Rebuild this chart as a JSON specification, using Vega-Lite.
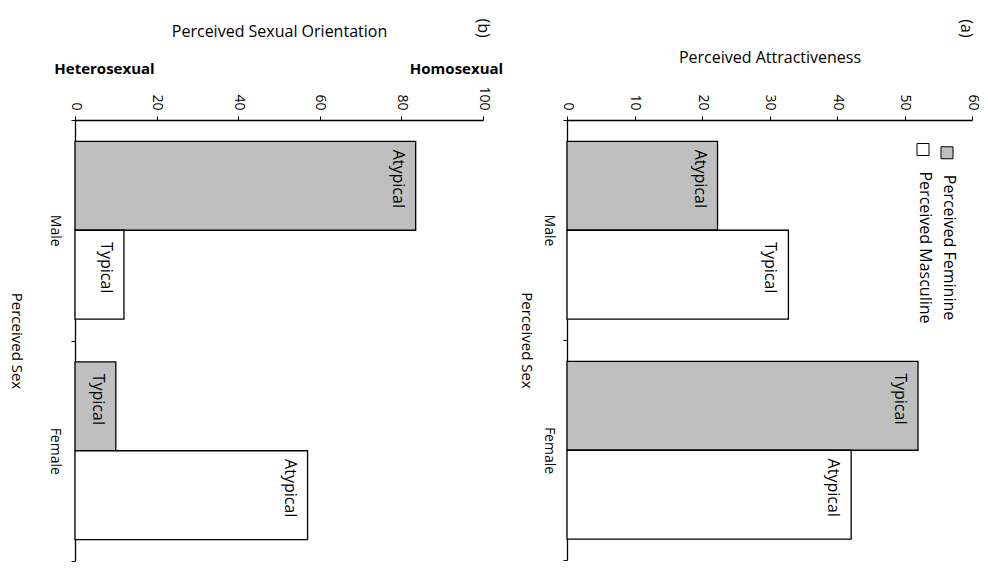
{
  "$schema": "https://vega.github.io/schema/vega-lite/v6.json",
  "background": "white",
  "padding": {"left": 8, "top": 18, "right": 2, "bottom": 2},
  "spacing": 15,
  "datasets": {
    "orientation": [
      {"sex": "Male", "gender": "Perceived Feminine", "label": "Atypical", "value": 83.5},
      {"sex": "Male", "gender": "Perceived Masculine", "label": "Typical", "value": 12},
      {"sex": "Female", "gender": "Perceived Feminine", "label": "Typical", "value": 10},
      {"sex": "Female", "gender": "Perceived Masculine", "label": "Atypical", "value": 57}
    ],
    "attractiveness": [
      {"sex": "Male", "gender": "Perceived Feminine", "label": "Atypical", "value": 22.3},
      {"sex": "Male", "gender": "Perceived Masculine", "label": "Typical", "value": 32.8},
      {"sex": "Female", "gender": "Perceived Feminine", "label": "Typical", "value": 52},
      {"sex": "Female", "gender": "Perceived Masculine", "label": "Atypical", "value": 42.1}
    ]
  },
  "hconcat": [
    {
      "width": 408,
      "height": 441,
      "title": {"text": "(b)", "angle": 90, "anchor": "end", "fontSize": 16, "font": "Open Sans", "fontWeight": "normal", "offset": -24, "dx": 10, "dy": 12},
      "data": {"name": "orientation"},
      "encoding": {
        "y": {"field": "sex", "type": "nominal", "sort": ["Male", "Female"],
          "scale": {"paddingInner": 0, "paddingOuter": 0},
          "axis": {"title": "Perceived Sex", "titleAngle": 90, "titleBaseline": "top", "titleAlign": "center", "titlePadding": 24, "titleFontSize": 15,
            "labelAngle": 90, "labelAlign": "center", "labelBaseline": "top", "labelPadding": 10, "tickBand": "extent", "tickSize": 4}},
        "yOffset": {"field": "gender", "type": "nominal", "sort": ["Perceived Feminine", "Perceived Masculine"],
          "scale": {"paddingInner": 0, "paddingOuter": 0.24}}
      },
      "layer": [
        {
          "mark": {"type": "bar", "stroke": "black", "strokeWidth": 1.3},
          "encoding": {
            "x": {"field": "value", "type": "quantitative", "scale": {"domain": [0, 100], "nice": false},
              "axis": {"orient": "top", "values": [0, 20, 40, 60, 80, 100], "title": null, "labelAngle": 90, "labelAlign": "right", "labelBaseline": "middle", "labelPadding": 6, "tickSize": 4}},
            "color": {"field": "gender", "type": "nominal",
              "scale": {"domain": ["Perceived Masculine", "Perceived Feminine"], "range": ["#ffffff", "#bfbfbf"]},
              "legend": null}
          }
        },
        {
          "mark": {"type": "text", "angle": 90, "baseline": "top", "align": "center", "dy": 10, "dx": -7, "fontSize": 16, "font": "Open Sans", "color": "black"},
          "encoding": {
            "x": {"field": "value", "type": "quantitative",
              "axis": {"orient": "top", "values": [0, 100], "offset": 42, "domain": false, "ticks": false,
                "labelExpr": "datum.value == 0 ? 'Heterosexual' : 'Homosexual'", "labelAngle": 0, "labelAlign": "center",
                "labelOffset": {"condition": {"test": "datum.value == 0", "value": 29}, "value": -27},
                "labelFontWeight": "bold", "labelFontSize": 15, "labelPadding": 2,
                "title": "Perceived Sexual Orientation", "titlePadding": 22, "titleFontSize": 16, "titleFontWeight": "normal"}},
            "text": {"field": "label"}
          }
        }
      ],
      "resolve": {"axis": {"x": "independent"}}
    },
    {
      "width": 405,
      "height": 440,
      "title": {"text": "(a)", "angle": 90, "anchor": "end", "fontSize": 16, "font": "Open Sans", "fontWeight": "normal", "offset": -6, "dy": 5},
      "data": {"name": "attractiveness"},
      "encoding": {
        "y": {"field": "sex", "type": "nominal", "sort": ["Male", "Female"],
          "scale": {"paddingInner": 0, "paddingOuter": 0},
          "axis": {"title": "Perceived Sex", "titleAngle": 90, "titleBaseline": "top", "titleAlign": "center", "titlePadding": 8, "titleFontSize": 15,
            "labelAngle": 90, "labelAlign": "center", "labelBaseline": "top", "labelPadding": 8, "tickBand": "extent", "tickSize": 4}},
        "yOffset": {"field": "gender", "type": "nominal", "sort": ["Perceived Feminine", "Perceived Masculine"],
          "scale": {"paddingInner": 0, "paddingOuter": 0.24}},
        "x": {"field": "value", "type": "quantitative", "scale": {"domain": [0, 60], "nice": false},
          "axis": {"orient": "top", "values": [0, 10, 20, 30, 40, 50, 60], "title": "Perceived Attractiveness", "titlePadding": 28, "titleFontSize": 16, "titleFontWeight": "normal",
            "labelAngle": 90, "labelAlign": "right", "labelBaseline": "middle", "labelPadding": 6, "tickSize": 4}}
      },
      "layer": [
        {
          "mark": {"type": "bar", "stroke": "black", "strokeWidth": 1.3},
          "encoding": {
            "color": {"field": "gender", "type": "nominal",
              "scale": {"domain": ["Perceived Masculine", "Perceived Feminine"], "range": ["#ffffff", "#bfbfbf"]},
              "legend": {"orient": "none", "legendX": 348, "legendY": 21, "direction": "horizontal", "title": null,
                "symbolType": "square", "symbolSize": 144, "symbolStrokeColor": "black", "symbolStrokeWidth": 1,
                "labelFont": "Open Sans", "labelFontSize": 16, "labelColor": "black", "labelOffset": -6, "columnPadding": 5,
                "encode": {"labels": {"update": {"angle": {"value": 90}, "align": {"value": "left"}, "baseline": {"value": "middle"}, "dx": {"value": 22}}}}}
            }
          }
        },
        {
          "mark": {"type": "text", "angle": 90, "baseline": "top", "align": "center", "dy": 10, "dx": -7, "fontSize": 16, "font": "Open Sans", "color": "black"},
          "encoding": {"text": {"field": "label"}}
        }
      ]
    }
  ],
  "resolve": {"scale": {"color": "independent"}},
  "config": {
    "font": "Open Sans",
    "view": {"stroke": null},
    "axis": {"grid": false, "domainColor": "black", "domainWidth": 1.3, "tickColor": "black", "labelColor": "black", "titleColor": "black",
      "labelFont": "Open Sans", "titleFont": "Open Sans", "labelFontSize": 14, "titleFontSize": 14, "titleFontWeight": "normal"},
    "title": {"color": "black"}
  }
}
